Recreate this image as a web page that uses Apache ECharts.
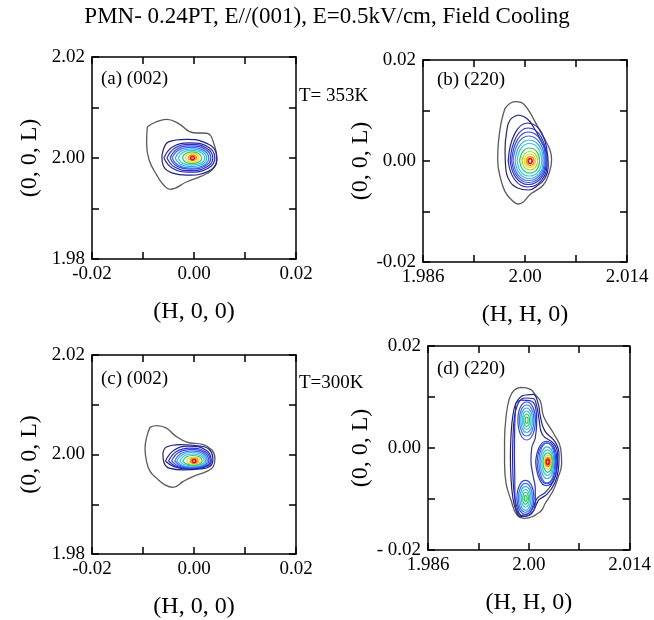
<!DOCTYPE html>
<html>
<head>
<meta charset="utf-8">
<script src="https://cdn.jsdelivr.net/npm/echarts@6/dist/echarts.min.js"></script>
<style>html,body{margin:0;padding:0;background:#fff}#c{width:654px;height:620px}</style>
</head>
<body>
<div id="c"></div>
<script>
// ---------------- DATA ----------------
const titleText = 'PMN- 0.24PT, E//(001), E=0.5kV/cm, Field Cooling';
const panelLabels = ['(a) (002)', '(b) (220)', '(c) (002)', '(d) (220)'];
const tempLabels = ['T= 353K', 'T=300K'];

const xTickValsH = [-0.02, 0.00, 0.02];
const xTickTextH = ['-0.02', '0.00', '0.02'];
const yTickValsL1 = [1.98, 2.00, 2.02];
const yTickTextL1 = ['1.98', '2.00', '2.02'];
const xTickValsHH = [1.986, 2.000, 2.014];
const xTickTextHH = ['1.986', '2.00', '2.014'];
const yTickValsL2 = [-0.02, 0.00, 0.02];
const yTickTextB = ['-0.02', '0.00', '0.02'];
const yTickTextD = ['- 0.02', '0.00', '0.02'];

// contour lines, panel (a): (H,0,0) vs (0,0,L)
const contoursA = [
  [[-0.00915,2.0062],[-0.00535,2.00766],[-0.0031,2.00687],[-0.0001,2.0050],[0.0025,2.0049],[0.0041,2.0022],[0.00445,1.9999],[0.0035,1.9976],[0.0012,1.9963],[-0.0014,1.9953],[-0.0047,1.9938],[-0.0060,1.9947],[-0.0073,1.9966],[-0.0088,1.9996],[-0.0093,2.0029]],
  [[-0.0063,2.0003],[-0.0050,2.0032],[-0.0014,2.0037],[0.0018,2.0032],[0.0043,2.0012],[0.0045,1.9996],[0.0027,1.9973],[-0.0014,1.9966],[-0.0042,1.9970],[-0.0060,1.9984]],
  [[-0.0059,2.0000],[-0.00422,2.00216],[-0.0009,2.0030],[0.00278,2.00216],[0.0041,2.0000],[0.00278,1.99798],[-0.0009,1.9972],[-0.00422,1.99798]],
  [[-0.0053,2.0000],[-0.0038,2.00194],[-0.0008,2.0027],[0.0025,2.00194],[0.0037,2.0000],[0.0025,1.9982],[-0.0008,1.9975],[-0.0038,1.9982]],
  [[-0.0047,2.0000],[-0.00338,2.00173],[-0.0007,2.0024],[0.00222,2.00173],[0.0033,2.0000],[0.00222,1.99842],[-0.0007,1.9978],[-0.00338,1.99842]],
  [[-0.0043,2.0000],[-0.0031,2.00151],[-0.0007,2.0021],[0.00194,2.00151],[0.0029,2.0000],[0.00194,1.99856],[-0.0007,1.9980],[-0.0031,1.99856]],
  [[-0.0037,2.0000],[-0.00268,2.0013],[-0.0006,2.0018],[0.00166,2.0013],[0.0025,2.0000],[0.00166,1.99878],[-0.0006,1.9983],[-0.00268,1.99878]],
  [[-0.0031,2.0000],[-0.00226,2.00108],[-0.0005,2.0015],[0.00138,2.00108],[0.0021,2.0000],[0.00138,1.99899],[-0.0005,1.9986],[-0.00226,1.99899]],
  [[-0.0023,2.0000],[-0.0017,2.00086],[-0.0004,2.0012],[0.00096,2.00086],[0.0015,2.0000],[0.00096,1.99921],[-0.0004,1.9989],[-0.0017,1.99921]],
  [[-0.0017,2.0000],[-0.00128,2.00065],[-0.0003,2.0009],[0.00061,2.00065],[0.0010,2.0000],[0.00061,1.99942],[-0.0003,1.9992],[-0.00128,1.99942]],
  [[-0.0011,2.0000],[-0.00086,2.00043],[-0.0003,2.0006],[0.00026,2.00043],[0.0005,2.0000],[0.00026,1.99964],[-0.0003,1.9995],[-0.00086,1.99964]],
  [[-0.0007,2.0000],[-0.00058,2.00022],[-0.0003,2.0003],[-0.00002,2.00022],[0.0001,2.0000],[-0.00002,1.99978],[-0.0003,1.9997],[-0.00058,1.99978]]
];

// panel (b): (H,H,0) vs (0,0,L)
const contoursB = [
  [[1.99726,0.01043],[1.99863,0.01175],[1.99953,0.01155],[2.00045,0.0101],[2.00137,0.00779],[2.00251,0.00482],[2.00343,0.00218],[2.00365,0.0002],[2.00329,-0.00244],[2.00251,-0.00475],[2.0009,-0.0064],[1.99908,-0.00851],[1.99816,-0.00772],[1.99726,-0.00607],[1.99658,-0.0031],[1.99625,0.0002],[1.99634,0.0035],[1.99671,0.00746]],
  [[1.99908,0.00911],[2.00022,0.00845],[2.00114,0.00679],[2.00227,0.00382],[2.0031,0.00119],[2.00319,-0.00113],[2.00274,-0.00343],[2.00182,-0.00475],[2.00045,-0.00574],[1.99908,-0.00541],[1.99795,-0.0041],[1.99734,-0.00113],[1.99726,0.00218],[1.99748,0.0058],[1.99795,0.00812]],
  [[1.99769,0],[1.99859,0.00542],[2.00036,0.00752],[2.00233,0.00542],[2.00303,0],[2.00233,-0.00371],[2.00036,-0.00515],[1.99859,-0.00371]],
  [[1.99796,0],[1.99878,0.0047],[2.00043,0.00653],[2.00223,0.0047],[2.00289,0],[2.00223,-0.00335],[2.00043,-0.00465],[1.99878,-0.00335]],
  [[1.99817,0],[1.99893,0.00413],[2.00046,0.00574],[2.00214,0.00413],[2.00276,0],[2.00214,-0.00307],[2.00046,-0.00426],[1.99893,-0.00307]],
  [[1.99837,0],[1.99907,0.00356],[2.00049,0.00495],[2.00204,0.00356],[2.00262,0],[2.00204,-0.00278],[2.00049,-0.00386],[1.99907,-0.00278]],
  [[1.99864,0],[1.99926,0.00299],[2.00056,0.00416],[2.00195,0.00299],[2.00248,0],[2.00195,-0.0025],[2.00056,-0.00347],[1.99926,-0.0025]],
  [[1.99892,0],[1.99945,0.0025],[2.0006,0.00347],[2.0018,0.0025],[2.00228,0],[2.0018,-0.00214],[2.0006,-0.00297],[1.99945,-0.00214]],
  [[1.99926,0],[1.99969,0.00185],[2.00063,0.00257],[2.00161,0.00185],[2.002,0],[2.00161,-0.00171],[2.00063,-0.00238],[1.99969,-0.00171]],
  [[1.9996,0],[1.99993,0.00135],[2.00067,0.00188],[2.00142,0.00135],[2.00173,0],[2.00142,-0.00128],[2.00067,-0.00178],[1.99993,-0.00128]],
  [[1.99988,0],[2.00012,0.001],[2.00068,0.00139],[2.00123,0.001],[2.00145,0],[2.00123,-0.00093],[2.00068,-0.00129],[2.00012,-0.00093]],
  [[2.00015,0],[2.00032,0.00064],[2.0007,0.00089],[2.00108,0.00064],[2.00125,0],[2.00108,-0.00064],[2.0007,-0.00089],[2.00032,-0.00064]],
  [[2.00043,0],[2.00051,0.00036],[2.0007,0.0005],[2.00089,0.00036],[2.00097,0],[2.00089,-0.00036],[2.0007,-0.0005],[2.00051,-0.00036]]
];

// panel (c): (H,0,0) vs (0,0,L)
const contoursC = [
  [[-0.0086,2.0055],[-0.0073,2.0058],[-0.0054,2.0053],[-0.0037,2.0038],[-0.0014,2.0025],[0.0018,2.0020],[0.0035,2.0009],[0.0041,1.9992],[0.0038,1.9976],[0.0025,1.9966],[-0.0001,1.9956],[-0.0021,1.9946],[-0.0041,1.9934],[-0.0057,1.9939],[-0.0073,1.9952],[-0.0086,1.9966],[-0.0093,1.9986],[-0.0096,2.0012],[-0.0092,2.0038]],
  [[-0.0061,2.0002],[-0.0054,2.0015],[-0.0027,2.0020],[0.0012,2.0017],[0.0031,2.0009],[0.0037,1.9989],[0.0031,1.9976],[0.0012,1.9971],[-0.0021,1.9969],[-0.0047,1.9972],[-0.0059,1.9984]],
  [[-0.0056,1.9987],[-0.00392,2.00086],[-0.0011,2.0017],[0.00238,2.00086],[0.0034,1.9987],[0.00238,1.99755],[-0.0011,1.9971],[-0.00392,1.99755]],
  [[-0.0050,1.9987],[-0.0035,2.00057],[-0.0009,2.0013],[0.00224,2.00057],[0.0032,1.9987],[0.00224,1.99762],[-0.0009,1.9972],[-0.0035,1.99762]],
  [[-0.0044,1.9987],[-0.00308,2.00036],[-0.00075,2.0010],[0.00203,2.00036],[0.0029,1.9987],[0.00203,1.99769],[-0.00075,1.9973],[-0.00308,1.99769]],
  [[-0.0038,1.9987],[-0.00266,2.00014],[-0.0006,2.0007],[0.00182,2.00014],[0.0026,1.9987],[0.00182,1.99776],[-0.0006,1.9974],[-0.00266,1.99776]],
  [[-0.0034,1.9987],[-0.00238,1.99992],[-0.00055,2.0004],[0.00161,1.99992],[0.0023,1.9987],[0.00161,1.99784],[-0.00055,1.9975],[-0.00238,1.99784]],
  [[-0.0028,1.9987],[-0.00196,1.99971],[-0.0004,2.0001],[0.0014,1.99971],[0.0020,1.9987],[0.0014,1.99798],[-0.0004,1.9977],[-0.00196,1.99798]],
  [[-0.0022,1.9987],[-0.00154,1.99949],[-0.0003,1.9998],[0.00112,1.99949],[0.0016,1.9987],[0.00112,1.99812],[-0.0003,1.9979],[-0.00154,1.99812]],
  [[-0.0014,1.9987],[-0.00098,1.99928],[-0.0001,1.9995],[0.00084,1.99928],[0.0012,1.9987],[0.00084,1.9982],[-0.0001,1.9980],[-0.00098,1.9982]],
  [[-0.0008,1.9987],[-0.00056,1.99913],[0.0000,1.9993],[0.00056,1.99913],[0.0008,1.9987],[0.00056,1.99834],[0.0000,1.9982],[-0.00056,1.99834]],
  [[-0.0004,1.9987],[-0.00028,1.99892],[0.0000,1.9990],[0.00028,1.99892],[0.0004,1.9987],[0.00028,1.99848],[0.0000,1.9984],[-0.00028,1.99848]]
];

// panel (d): (H,H,0) vs (0,0,L)
const contoursD = [
  [[1.99888,0.0119],[2.00024,0.0115],[2.00092,0.01039],[2.0016,0.0092],[2.00207,0.00613],[2.00343,0.00288],[2.00442,-0.00006],[2.00456,-0.0030],[2.00411,-0.00562],[2.0034,-0.0083],[2.00228,-0.01084],[2.0016,-0.01248],[1.99935,-0.01378],[1.99834,-0.01313],[1.99752,-0.01019],[1.99684,-0.00692],[1.99663,-0.0030],[1.99663,0.00157],[1.99684,0.00613],[1.99731,0.00974],[1.99799,0.01137]],
  [[1.99956,0.01039],[2.0006,0.0105],[2.0013,0.0087],[2.0016,0.0062],[2.0022,0.0034],[2.0037,0.0011],[2.0042,-0.0017],[2.0041,-0.0043],[2.0036,-0.0069],[2.0025,-0.0091],[2.00139,-0.01019],[2.00071,-0.01215],[2.00003,-0.01313],[1.99888,-0.01347],[1.9982,-0.01215],[1.99776,-0.00955],[1.99752,-0.00562],[1.99744,-0.0017],[1.99752,0.00221],[1.99776,0.00613],[1.9982,0.00876],[1.99888,0.01006]],
  [[1.99956,0.0098],[2.0006,0.0097],[2.0011,0.0082],[2.0014,0.0058],[2.0019,0.0026],[2.0035,0.0008],[2.0040,-0.0017],[2.0039,-0.0042],[2.0034,-0.0066],[2.0023,-0.0087],[2.0012,-0.0098],[2.0006,-0.0116],[2.0000,-0.0128],[1.9990,-0.0132],[1.9984,-0.0118],[1.9980,-0.0093],[1.9978,-0.0056],[1.99775,-0.0017],[1.9978,0.0022],[1.9980,0.0060],[1.9984,0.0084],[1.9990,0.0096]],
  [[1.9982,0.0088],[1.9990,0.0094],[2.0001,0.0093],[2.0009,0.0082],[2.0011,0.0055],[2.0009,0.0020],[2.0004,0.0000],[2.0003,-0.0025],[2.0006,-0.0055],[2.0009,-0.0080],[2.0009,-0.0105],[2.0005,-0.0127],[1.9995,-0.0134],[1.9986,-0.0129],[1.9981,-0.0110],[1.99805,-0.0060],[1.9980,-0.0010],[1.99805,0.0045]],
  [[2.00095,-0.0027],[2.00146,0.00019],[2.00241,0.00132],[2.00351,0.00019],[2.00387,-0.0027],[2.00351,-0.00609],[2.00241,-0.0074],[2.00146,-0.00609]],
  [[2.00115,-0.0027],[2.0016,-0.00002],[2.00245,0.00102],[2.00341,-0.00002],[2.00374,-0.0027],[2.00341,-0.0058],[2.00245,-0.00701],[2.0016,-0.0058]],
  [[2.00136,-0.0027],[2.00175,-0.00009],[2.00248,0.00093],[2.00332,-0.00009],[2.0036,-0.0027],[2.00332,-0.00566],[2.00248,-0.00682],[2.00175,-0.00566]],
  [[2.00156,-0.0027],[2.00189,-0.00058],[2.00251,0.00024],[2.00322,-0.00058],[2.00347,-0.0027],[2.00322,-0.0051],[2.00251,-0.00603],[2.00189,-0.0051]],
  [[2.00177,-0.0027],[2.00203,-0.00101],[2.00255,-0.00035],[2.00313,-0.00101],[2.00333,-0.0027],[2.00313,-0.00461],[2.00255,-0.00535],[2.00203,-0.00461]],
  [[2.00197,-0.0027],[2.00217,-0.00143],[2.0026,-0.00094],[2.00305,-0.00143],[2.00322,-0.0027],[2.00305,-0.00418],[2.0026,-0.00476],[2.00217,-0.00418]],
  [[2.00217,-0.0027],[2.00232,-0.00178],[2.00263,-0.00143],[2.00295,-0.00178],[2.00309,-0.0027],[2.00295,-0.00376],[2.00263,-0.00417],[2.00232,-0.00376]],
  [[2.00231,-0.0027],[2.00241,-0.00206],[2.00264,-0.00182],[2.00287,-0.00206],[2.00296,-0.0027],[2.00287,-0.00341],[2.00264,-0.00368],[2.00241,-0.00341]],
  [[2.00245,-0.0027],[2.00251,-0.00235],[2.00265,-0.00221],[2.00278,-0.00235],[2.00284,-0.0027],[2.00278,-0.00312],[2.00265,-0.00329],[2.00251,-0.00312]],
  [[1.99848,0.00549],[1.99884,0.00803],[1.9997,0.00902],[2.00056,0.00803],[2.00092,0.00549],[2.00056,0.00267],[1.9997,0.00157],[1.99884,0.00267]],
  [[1.99868,0.00549],[1.99899,0.00761],[1.9997,0.00843],[2.00041,0.00761],[2.00072,0.00549],[2.00041,0.00323],[1.9997,0.00235],[1.99899,0.00323]],
  [[1.99888,0.00549],[1.99913,0.00718],[1.9997,0.00784],[2.00027,0.00718],[2.00052,0.00549],[2.00027,0.00373],[1.9997,0.00304],[1.99913,0.00373]],
  [[1.99909,0.00549],[1.99927,0.00676],[1.9997,0.00725],[2.00013,0.00676],[2.00031,0.00549],[2.00013,0.00415],[1.9997,0.00363],[1.99927,0.00415]],
  [[1.99929,0.00549],[1.99941,0.00634],[1.9997,0.00667],[1.99999,0.00634],[2.00011,0.00549],[1.99999,0.00457],[1.9997,0.00422],[1.99941,0.00457]],
  [[1.9995,0.00549],[1.99956,0.00591],[1.9997,0.00608],[1.99984,0.00591],[1.9999,0.00549],[1.99984,0.005],[1.9997,0.0048],[1.99956,0.005]],
  [[1.99834,-0.00986],[1.9987,-0.00732],[1.99953,-0.00633],[2.00037,-0.00732],[2.00072,-0.00986],[2.00037,-0.0121],[1.99953,-0.0130],[1.9987,-0.0121]],
  [[1.99854,-0.00986],[1.99885,-0.00774],[1.99953,-0.00692],[2.00023,-0.00774],[2.00051,-0.00986],[2.00023,-0.01188],[1.99953,-0.0126],[1.99885,-0.01188]],
  [[1.99874,-0.00986],[1.99899,-0.00817],[1.99953,-0.00751],[2.00008,-0.00817],[2.00031,-0.00986],[2.00008,-0.01155],[1.99953,-0.01221],[1.99899,-0.01155]],
  [[1.99895,-0.00986],[1.99913,-0.00859],[1.99954,-0.0081],[1.99994,-0.00859],[2.0001,-0.00986],[1.99994,-0.01113],[1.99954,-0.01162],[1.99913,-0.01113]],
  [[1.99915,-0.00986],[1.99927,-0.00901],[1.99955,-0.00868],[1.99983,-0.00901],[1.99994,-0.00986],[1.99983,-0.01071],[1.99955,-0.01104],[1.99927,-0.01071]],
  [[1.99936,-0.00986],[1.99942,-0.00944],[1.99956,-0.00927],[1.99969,-0.00944],[1.99975,-0.00986],[1.99969,-0.01028],[1.99956,-0.01045],[1.99942,-0.01028]]
];

// ---------------- STYLE ----------------
const C = {
  gray:'#5a5a5a', navy:'#22227e', b1:'#2626a6', b2:'#2b2fcc', b3:'#2f48e6', b4:'#3a6cff',
  lb:'#3aa6f4', cy:'#26d0d8', gr:'#2cc85a', yg:'#a2dc24', ye:'#f0dc00', or:'#ff8400', rd:'#e0141a'
};
const colorsA = [C.gray,C.navy,C.b1,C.b2,C.b3,C.b4,C.lb,C.cy,C.gr,C.ye,C.or,C.rd];
const colorsB = [C.gray,C.navy,C.b1,C.b2,C.b3,C.b4,C.lb,C.cy,C.gr,C.yg,C.ye,C.or,C.rd];
const colorsC = colorsA;
const colorsD = [C.gray,C.navy,C.b1,C.b2,C.b2,
                 C.b3,C.b4,C.lb,C.cy,C.gr,C.ye,C.or,C.rd,
                 C.b3,C.b4,C.lb,C.cy,C.gr,C.gr,
                 C.b3,C.b4,C.lb,C.cy,C.gr,C.gr];

const FONT = '"Liberation Serif","Times New Roman",serif';
const grids = [
  {left:92, top:57, width:204, height:202},
  {left:423, top:60, width:204, height:202},
  {left:92, top:355, width:204, height:202},
  {left:428, top:346, width:206, height:204}
];

function fmt(vals, texts){
  return function(v){
    for (let i=0;i<vals.length;i++) if (Math.abs(v-vals[i])<1e-6) return texts[i];
    return '';
  };
}
const axisLine = {show:true, onZero:false, lineStyle:{color:'#000', width:1.5}};
const axisTick = {show:true, inside:true, length:7, lineStyle:{color:'#000', width:1.5}};

const xAxes = [], yAxes = [];
const axisSpec = [
  {xmin:-0.02, xmax:0.02, xint:0.01, xv:xTickValsH, xt:xTickTextH, xname:'(H, 0, 0)',
   ymin:1.98, ymax:2.02, yint:0.01, yv:yTickValsL1, yt:yTickTextL1, ygap:50},
  {xmin:1.986, xmax:2.014, xint:0.007, xv:xTickValsHH, xt:xTickTextHH, xname:'(H, H, 0)',
   ymin:-0.02, ymax:0.02, yint:0.01, yv:yTickValsL2, yt:yTickTextB, ygap:39},
  {xmin:-0.02, xmax:0.02, xint:0.01, xv:xTickValsH, xt:xTickTextH, xname:'(H, 0, 0)',
   ymin:1.98, ymax:2.02, yint:0.01, yv:yTickValsL1, yt:yTickTextL1, ygap:50},
  {xmin:1.986, xmax:2.014, xint:0.007, xv:xTickValsHH, xt:xTickTextHH, xname:'(H, H, 0)',
   ymin:-0.02, ymax:0.02, yint:0.01, yv:yTickValsL2, yt:yTickTextD, ygap:42}
];
axisSpec.forEach((s, g) => {
  xAxes.push({gridIndex:g, type:'value', min:s.xmin, max:s.xmax, interval:s.xint, position:'bottom',
    axisLine, axisTick, splitLine:{show:false},
    axisLabel:{show:true, formatter:fmt(s.xv, s.xt), fontSize:19, color:'#000', fontFamily:FONT, margin:6,
      showMinLabel:true, showMaxLabel:true, hideOverlap:false},
    name:s.xname, nameLocation:'middle', nameGap:41,
    nameTextStyle:{fontSize:24, color:'#000', fontFamily:FONT}});
  xAxes.push({gridIndex:g, type:'value', min:s.xmin, max:s.xmax, interval:s.xint, position:'top',
    axisLine, axisTick, splitLine:{show:false}, axisLabel:{show:false}});
  yAxes.push({gridIndex:g, type:'value', min:s.ymin, max:s.ymax, interval:s.yint, position:'left',
    axisLine, axisTick, splitLine:{show:false},
    axisLabel:{show:true, formatter:fmt(s.yv, s.yt), fontSize:19, color:'#000', fontFamily:FONT, margin:7,
      showMinLabel:true, showMaxLabel:true, hideOverlap:false},
    name:'(0, 0, L)', nameLocation:'middle', nameGap:s.ygap, nameRotate:90,
    nameTextStyle:{fontSize:24, color:'#000', fontFamily:FONT}});
  yAxes.push({gridIndex:g, type:'value', min:s.ymin, max:s.ymax, interval:s.yint, position:'right',
    axisLine, axisTick, splitLine:{show:false}, axisLabel:{show:false}});
});

const series = [];
function addContours(g, contours, colors){
  contours.forEach((pts, i) => {
    const thick = colors[i] === C.rd;
    series.push({
      type:'line', xAxisIndex:g*2, yAxisIndex:g*2, data:pts.concat([pts[0]]),
      smooth:0.45, showSymbol:false, symbol:'none', silent:true, clip:true,
      lineStyle:{color:colors[i], width: i === 0 ? 1.3 : (thick ? 1.8 : 1.2)},
      z: 2 + i
    });
  });
}
addContours(0, contoursA, colorsA);
addContours(1, contoursB, colorsB);
addContours(2, contoursC, colorsC);
addContours(3, contoursD, colorsD);

const textStyle = (t, size) => ({text:t, font:`${size}px ${FONT}`, fill:'#000'});
const graphic = [
  {type:'text', left:'center', top:5, style:textStyle(titleText, 23)},
  {type:'text', x:101, y:70, style:textStyle(panelLabels[0], 19)},
  {type:'text', x:437, y:71, style:textStyle(panelLabels[1], 19)},
  {type:'text', x:101, y:370, style:textStyle(panelLabels[2], 19)},
  {type:'text', x:437, y:360, style:textStyle(panelLabels[3], 19)},
  {type:'text', x:299, y:87, style:textStyle(tempLabels[0], 19)},
  {type:'text', x:299, y:374, style:textStyle(tempLabels[1], 19)}
];

const chart = echarts.init(document.getElementById('c'), null, {renderer:'canvas'});
chart.setOption({
  animation:false,
  backgroundColor:'#fff',
  grid:grids,
  xAxis:xAxes,
  yAxis:yAxes,
  series,
  graphic
});
</script>
</body>
</html>
